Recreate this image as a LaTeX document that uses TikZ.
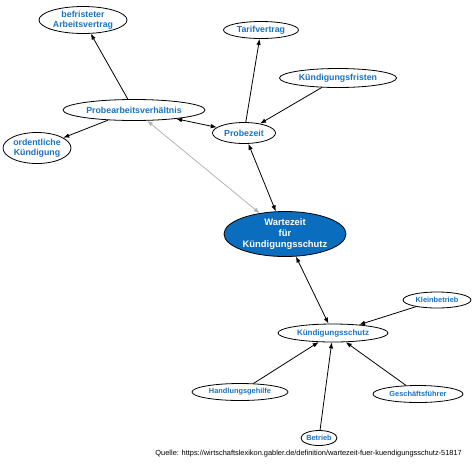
\documentclass[tikz,border=0pt]{standalone}
\usepackage{fontspec}
\setmainfont{Liberation Sans}
\usepackage{xcolor}
\usepackage{tikz}
\usetikzlibrary{shapes.geometric, arrows.meta}
\definecolor{conceptblue}{HTML}{1A72C4}
\definecolor{corefill}{HTML}{0B6DBD}
\definecolor{linkgray}{HTML}{B4B4B4}

\begin{document}
\begin{tikzpicture}[
    x=1pt, y=-1pt,
    concept/.style={ellipse, draw, line width=0.8pt, fill=white, text=conceptblue,
                    inner sep=0pt, align=center,
                    font=\fontsize{8.8}{9.6}\selectfont\bfseries},
    small/.style={font=\fontsize{7.4}{8.4}\selectfont\bfseries},
    core/.style={concept, fill=corefill, text=white,
                 font=\fontsize{9.4}{11}\selectfont\bfseries},
    arrow/.style={-{Latex[length=6pt, width=4.5pt]}, line width=0.8pt},
    twoway/.style={{Latex[length=6pt, width=4.5pt]}-{Latex[length=6pt, width=4.5pt]}, line width=0.8pt},
    faint/.style={twoway, linkgray}
  ]
    \useasboundingbox (0,0) rectangle (474,467);

    % concepts round the probation period
    \node[concept, minimum width=88pt, minimum height=27pt] (befristet) at (83,20)
      {befristeter\\Arbeitsvertrag};
    \node[concept, minimum width=142pt, minimum height=21pt] (probearbeit) at (134,110)
      {Probearbeitsverhältnis};
    \node[concept, minimum width=68pt, minimum height=31pt] (ordentlich) at (37,148)
      {ordentliche\\Kündigung};
    \node[concept, minimum width=75pt, minimum height=17pt] (tarif) at (261,30)
      {Tarifvertrag};
    \node[concept, minimum width=117pt, minimum height=19pt] (fristen) at (338,78)
      {Kündigungsfristen};
    \node[concept, minimum width=63pt, minimum height=21pt] (probezeit) at (244,133)
      {Probezeit};

    % central concept
    \node[core, minimum width=122pt, minimum height=45pt] (wartezeit) at (285,234)
      {Wartezeit\\für\\Kündigungsschutz};

    % concepts round the dismissal protection
    \node[concept, small, minimum width=68pt, minimum height=16pt] (klein) at (437,300)
      {Kleinbetrieb};
    \node[concept, font=\fontsize{8}{9}\selectfont\bfseries, minimum width=110pt, minimum height=18pt] (schutz) at (333,333)
      {Kündigungsschutz};
    \node[concept, small, minimum width=96pt, minimum height=17pt] (gehilfe) at (240,392)
      {Handlungsgehilfe};
    \node[concept, small, minimum width=90pt, minimum height=17pt] (fuehrer) at (418,394)
      {Geschäftsführer};
    \node[concept, small, minimum width=35pt, minimum height=15pt] (betrieb) at (319,438)
      {Betrieb};

    \node[anchor=east, inner sep=0pt, font=\fontsize{7.4}{8}\selectfont] (quelle) at (462,454)
      {Quelle: https://wirtschaftslexikon.gabler.de/definition/wartezeit-fuer-kuendigungsschutz-51817};

    \draw[arrow] (probearbeit) -- (befristet);
    \draw[arrow] (probearbeit) -- (ordentlich);
    \draw[twoway] (probearbeit) -- (probezeit);
    \draw[faint] (probearbeit) -- (wartezeit);
    \draw[arrow] (probezeit) -- (tarif);
    \draw[arrow] (fristen) -- (probezeit);
    \draw[twoway] (probezeit) -- (wartezeit);
    \draw[twoway] (wartezeit) -- (schutz);
    \draw[arrow] (klein) -- (schutz);
    \draw[arrow] (gehilfe) -- (schutz);
    \draw[arrow] (betrieb) -- (schutz);
    \draw[arrow] (fuehrer) -- (schutz);
  \end{tikzpicture}
\end{document}
